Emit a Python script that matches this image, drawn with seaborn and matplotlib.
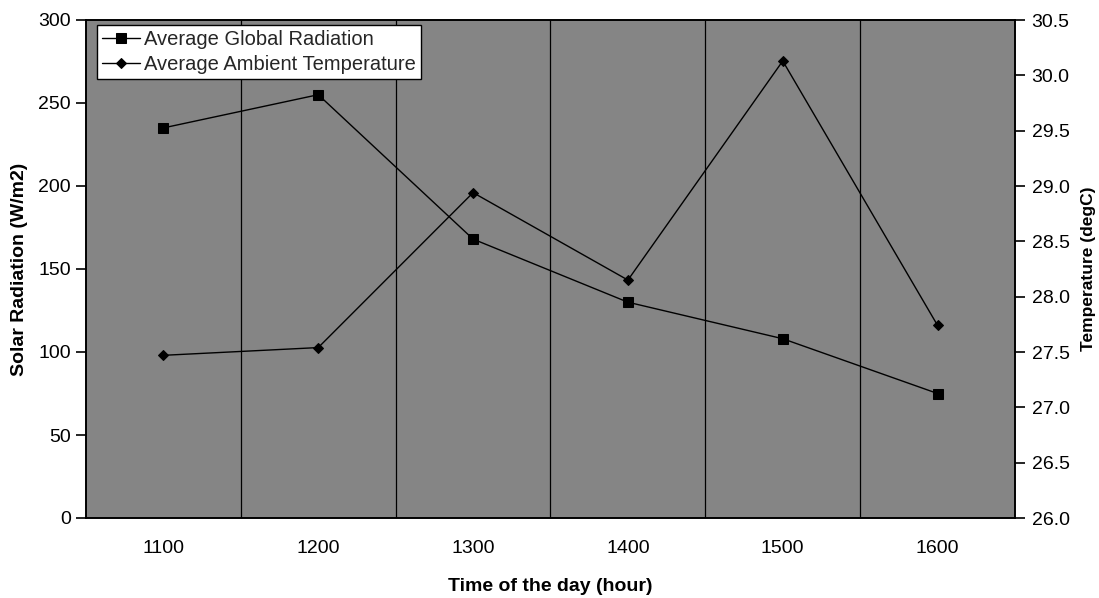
import numpy as np
import pandas as pd
import matplotlib
matplotlib.use("Agg")
import matplotlib.pyplot as plt
import seaborn as sns

hours = [1100, 1200, 1300, 1400, 1500, 1600]
radiation = [235, 255, 168, 130, 108, 75]
temperature = [27.47, 27.54, 28.94, 28.15, 30.13, 27.74]
rad_label = "Average Global Radiation"
temp_label = "Average Ambient Temperature"

sns.set_theme(style="white")
plt.rcParams['font.family'] = ['Liberation Sans', 'DejaVu Sans']

df = pd.DataFrame({"hour": hours, "rad": radiation, "temp": temperature})

fig = plt.figure(figsize=(10.99, 5.98), dpi=100)
ax = fig.add_axes([86/1099, 1-518/598, (1015-86)/1099, (518-20)/598])
ax.set_facecolor("#858585")

sns.lineplot(data=df, x="hour", y="rad", ax=ax, color="black", lw=1.0,
             marker="s", markersize=6.5, markeredgecolor="black", label=rad_label, legend=False)
ax2 = ax.twinx()
sns.lineplot(data=df, x="hour", y="temp", ax=ax2, color="black", lw=1.0,
             marker="D", markersize=5, markeredgecolor="black", label=temp_label, legend=False)

ax.set_xlim(1050, 1650)
ax.set_ylim(0, 300)
ax2.set_ylim(26.0, 30.5)
ax.set_yticks(np.arange(0, 301, 50))
ax2.set_yticks(np.arange(26.0, 30.51, 0.5))
ax2.set_yticklabels([f"{v:.1f}" for v in np.arange(26.0, 30.51, 0.5)])

ax.set_xticks(hours)
ax.set_xticklabels([str(h) for h in hours])
bounds = [1050 + 100*i for i in range(7)]
ax.set_xticks(bounds, minor=True)
ax.tick_params(axis='x', which='major', length=0, labelsize=14, pad=16, colors='black')
ax.tick_params(axis='x', which='minor', length=7, width=1.2, direction='out', color='black')
ax.tick_params(axis='y', which='major', length=7, width=1.2, direction='out', labelsize=14, left=True, colors='black', pad=4)
ax2.tick_params(axis='y', which='major', length=7, width=1.2, direction='out', labelsize=14, right=True, colors='black', pad=5)
for b in bounds[1:-1]:
    ax.axvline(b, color='black', lw=0.9, zorder=1)

for a in (ax, ax2):
    for s in a.spines.values():
        s.set_color('black')
        s.set_linewidth(1.2)
    a.grid(False)

ax.set_xlabel("Time of the day (hour)", fontsize=14, fontweight='bold', labelpad=15, color='black')
ax.set_ylabel("Solar Radiation (W/m2)", fontsize=14, fontweight='bold', labelpad=7, color='black')
ax2.set_ylabel("Temperature (degC)", fontsize=12.5, fontweight='bold', labelpad=8, color='black')

h1, l1 = ax.get_legend_handles_labels()
h2, l2 = ax2.get_legend_handles_labels()
leg = ax2.legend(h1 + h2, l1 + l2, loc='upper left', bbox_to_anchor=(0.012, 0.99),
                 fontsize=14.5, frameon=True, fancybox=False, framealpha=1,
                 edgecolor='black', facecolor='white', borderpad=0.25,
                 labelspacing=0.3, handlelength=1.9, handletextpad=0.2, borderaxespad=0)
leg.get_frame().set_linewidth(1.0)

fig.savefig("out.png", dpi=100)
